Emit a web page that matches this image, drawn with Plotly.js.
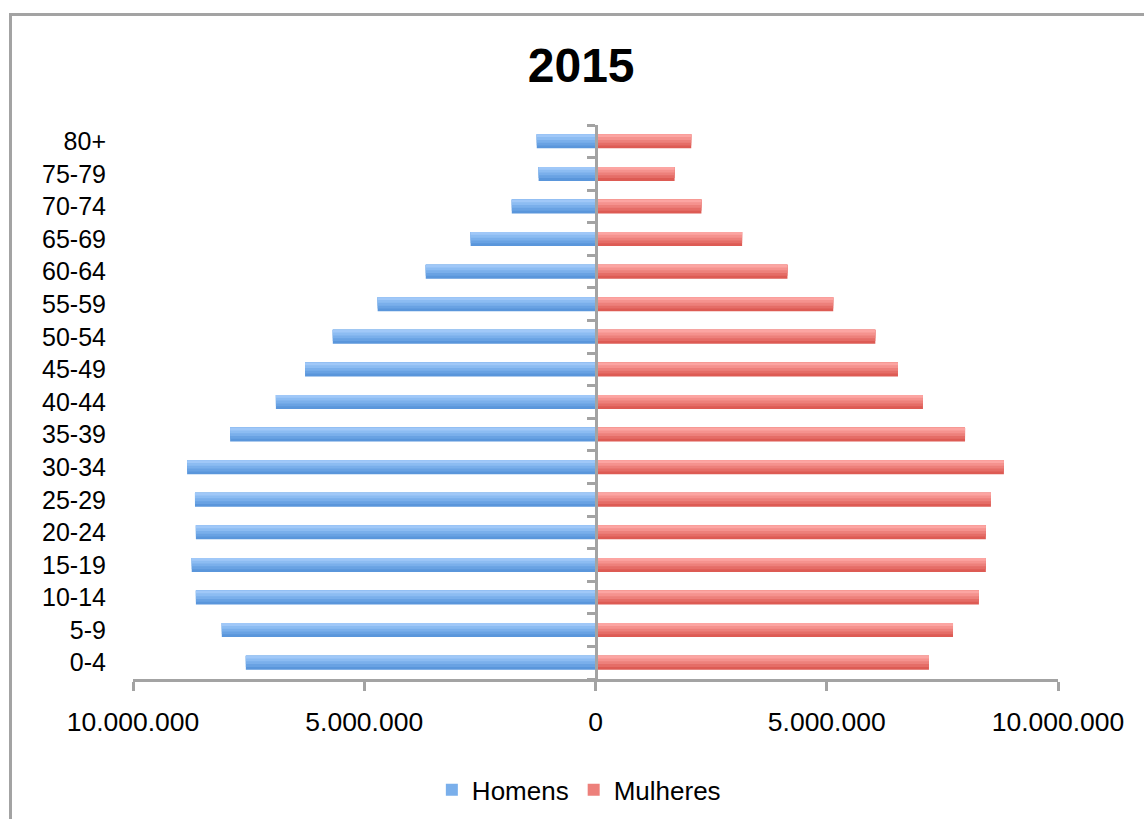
<!DOCTYPE html>
<html>
<head>
<meta charset="utf-8">
<script src="https://cdn.plot.ly/plotly-3.0.1.min.js"></script>
<style>
  html, body { margin: 0; padding: 0; background: #ffffff; }
  #wrap { position: relative; width: 1144px; height: 819px; overflow: hidden; }
  #frame { position: absolute; left: 9px; top: 13px; width: 1200px; height: 900px;
           border-left: 3px solid #a3a3a3; border-top: 3px solid #a3a3a3; }
  #chart { position: absolute; left: 0; top: 0; width: 1144px; height: 819px; }
</style>
</head>
<body>
<div id="wrap">
  <div id="frame"></div>
  <div id="chart"></div>
</div>
<script>
// Age groups (bottom to top)
const ageGroups = ["0-4","5-9","10-14","15-19","20-24","25-29","30-34","35-39","40-44",
                   "45-49","50-54","55-59","60-64","65-69","70-74","75-79","80+"];
// Population, men (Homens)
const homens = [7560000, 8080000, 8640000, 8730000, 8640000, 8660000, 8830000, 7900000, 6910000,
                6280000, 5680000, 4710000, 3670000, 2700000, 1810000, 1230000, 1270000];
// Population, women (Mulheres)
const mulheres = [7210000, 7730000, 8290000, 8440000, 8440000, 8550000, 8830000, 7990000, 7080000,
                  6540000, 6050000, 5140000, 4150000, 3170000, 2290000, 1710000, 2070000];
// X axis ticks
const xTickVals = [-10000000, -5000000, 0, 5000000, 10000000];
const xTickText = ["10.000.000", "5.000.000", "0", "5.000.000", "10.000.000"];

const font = "Liberation Sans, Arial, Helvetica, sans-serif";

// Gradient shades (bottom -> top) used to imitate the shaded bars
const blueShades = ["#5a96db", "#69a2e3", "#7aafeb", "#8cbcf2", "#a0c8f8"];
const redShades  = ["#dd5b54", "#e56d67", "#ed807b", "#f5928e", "#fca5a2"];
const barWidth = 0.43;
const nBands = blueShades.length;
const bandW = barWidth / nBands;

const traces = [];
function addSeries(name, values, yaxis, shades, legendBand) {
  shades.forEach((c, i) => {
    traces.push({
      type: "bar", orientation: "h", name: name,
      y: ageGroups, x: values,
      xaxis: "x", yaxis: yaxis,
      width: barWidth - i * bandW,
      offset: -barWidth / 2 + i * bandW,
      marker: { color: c, line: { width: 0 } },
      showlegend: i === legendBand,
      legendgroup: name,
      hoverinfo: "skip"
    });
  });
}
addSeries("Homens", homens.map(v => -v), "y", blueShades, 2);
addSeries("Mulheres", mulheres, "y2", redShades, 2);

const layout = {
  width: 1144, height: 819,
  margin: { l: 133, r: 86, t: 125, b: 140, autoexpand: false },
  paper_bgcolor: "rgba(0,0,0,0)",
  plot_bgcolor: "rgba(0,0,0,0)",
  font: { family: font, color: "#000000", size: 24 },
  title: {
    text: "<b>2015</b>",
    font: { family: font, size: 48, color: "#000000" },
    x: 0.508, xanchor: "center",
    y: 0.921, yanchor: "middle"
  },
  barmode: "overlay",
  showlegend: true,
  legend: {
    orientation: "h",
    x: 0.482, xanchor: "center",
    y: -0.2, yanchor: "middle",
    font: { family: font, size: 26, color: "#000000" },
    itemwidth: 30,
    traceorder: "normal"
  },
  xaxis: {
    range: [-10000000, 10000000],
    tickvals: xTickVals, ticktext: xTickText,
    showgrid: false, zeroline: false,
    showline: true, linecolor: "#a3a3a3", linewidth: 3,
    ticks: "outside", ticklen: 9, tickwidth: 3, tickcolor: "#a3a3a3",
    ticklabelstandoff: 8,
    tickfont: { family: font, size: 26.5, color: "#000000" },
    fixedrange: true
  },
  yaxis: {
    type: "category",
    categoryorder: "array", categoryarray: ageGroups,
    range: [-0.5, 16.5],
    showgrid: false, zeroline: false, showline: false,
    ticks: "", ticklabelstandoff: 26,
    tickfont: { family: font, size: 25, color: "#000000" },
    fixedrange: true
  },
  yaxis2: {
    type: "category",
    categoryorder: "array", categoryarray: ageGroups,
    range: [-0.5, 16.5],
    overlaying: "y", anchor: "free", position: 0.5, side: "left",
    showgrid: false, zeroline: false,
    showline: true, linecolor: "#a3a3a3", linewidth: 3,
    ticks: "outside", ticklen: 8, tickwidth: 3, tickcolor: "#a3a3a3",
    tickson: "boundaries",
    showticklabels: false,
    fixedrange: true
  }
};

Plotly.newPlot("chart", traces, layout, { displayModeBar: false, staticPlot: true });
</script>
</body>
</html>
